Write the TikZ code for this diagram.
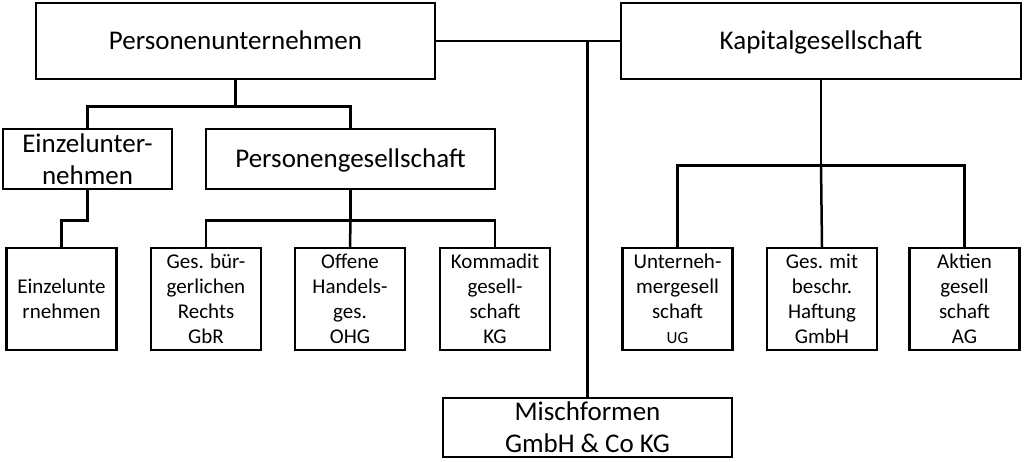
\documentclass[tikz,border=0pt]{standalone}
\usepackage{fontspec}
\setmainfont{Carlito}

\begin{document}
\begin{tikzpicture}[x=1pt,y=-1pt,line width=2.5pt,
  big/.style={draw,align=center,inner sep=0pt,font=\fontsize{27}{32}\selectfont},
  oneline/.style={text height=23pt,text depth=6pt},
  small/.style={draw,align=center,inner sep=0pt,minimum width=110pt,minimum height=102pt,font=\fontsize{21}{25}\selectfont}]
\useasboundingbox (0,0) rectangle (1024,461);
  \node[big,oneline,minimum width=399pt,minimum height=76pt] (pu) at (235.5,41) {Personenunternehmen};
  \node[big,oneline,minimum width=400pt,minimum height=76pt] (kap) at (821,41) {Kapitalgesellschaft};
  \node[big,minimum width=169pt,minimum height=60pt] (eu) at (87.5,159) {Einzelunter-\\nehmen};
  \node[big,oneline,minimum width=289pt,minimum height=60pt] (pg) at (350.5,159) {Personengesellschaft};
  \node[big,minimum width=289pt,minimum height=59pt] (misch) at (587.5,427.5) {Mischformen\\GmbH \& Co KG};

  \node[small] (eu2) at (61.5,299) {Einzelunte\\rnehmen};
  \node[small] (gbr) at (206,299) {Ges. b\"ur-\\gerlichen\\Rechts\\GbR};
  \node[small] (ohg) at (350,299) {Offene\\Handels-\\ges.\\OHG};
  \node[small] (kg) at (495,299) {Kommadit\\gesell-\\schaft\\KG};
  \node[small] (ug) at (677.5,299) {Unterneh-\\mergesell\\schaft\\{\fontsize{17}{25}\selectfont UG}};
  \node[small] (gmbh) at (822,299) {Ges. mit\\beschr.\\Haftung\\GmbH};
  \node[small] (ag) at (964.5,299) {Aktien\\gesell\\schaft\\AG};

  \draw (pu.east) -- (kap.west);
  \draw (misch.north) -- (misch.north |- pu.east);
  \draw (pu.south) -- ++(0,26) coordinate (pujoin) -| (eu.north);
  \draw (pujoin) -| (pg.north);
  \draw (eu.south) -- ++(0,30) -| (eu2.north);
  \draw (pg.south) -- ++(0,30) coordinate (pgjoin) -| (gbr.north);
  \draw (pgjoin) -| (kg.north);
  \draw (pgjoin) -- (ohg.north);
  \draw (kap.south) -- ++(0,85) coordinate (kapjoin) -| (ug.north);
  \draw (kapjoin) -| (ag.north);
  \draw (kapjoin) -- (gmbh.north);
 \end{tikzpicture}
\end{document}
